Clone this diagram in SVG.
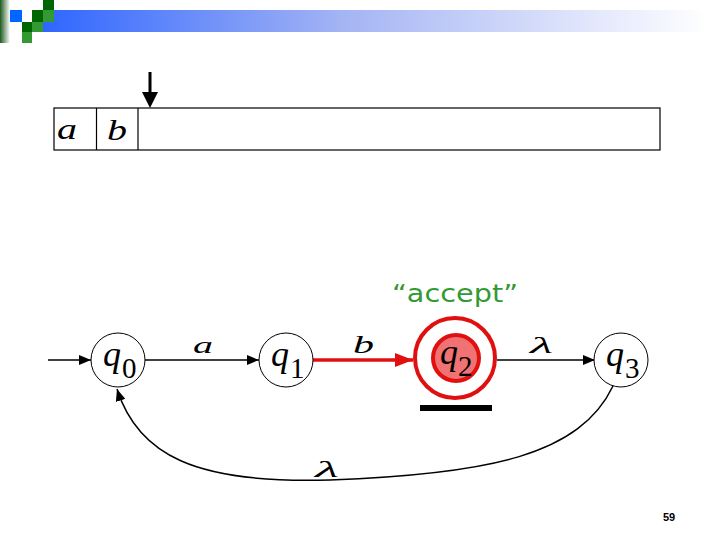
<svg xmlns="http://www.w3.org/2000/svg" width="720" height="540" viewBox="0 0 720 540">
<style>
.st{fill:#fff;stroke:#000;stroke-width:1}
.q{font-family:'Liberation Serif','Times New Roman',Times,serif;font-style:italic;font-size:36px;fill:#000}
.sub{font-family:'Liberation Serif','Times New Roman',Times,serif;font-size:29px;fill:#000}
.lbl{font-family:'Liberation Serif','Times New Roman',Times,serif;font-style:italic;fill:#000}
.edge{fill:none;stroke:#000;stroke-width:1.5}
</style>
<defs>
<linearGradient id="bar" x1="0" y1="0" x2="1" y2="0">
<stop offset="0" stop-color="#2f66ff"/>
<stop offset="0.45" stop-color="#a4b4f4"/>
<stop offset="1" stop-color="#ffffff"/>
</linearGradient>
<linearGradient id="lft" x1="0" y1="0" x2="1" y2="0">
<stop offset="0" stop-color="#1d5a1d"/>
<stop offset="1" stop-color="#ffffff"/>
</linearGradient>
<marker id="ah" markerWidth="12" markerHeight="10" refX="12" refY="5" orient="auto" markerUnits="userSpaceOnUse">
<path d="M0,0 L12,5 L0,10 Z" fill="#000"/>
</marker>
<marker id="ahr" markerWidth="18" markerHeight="14" refX="18" refY="7" orient="auto" markerUnits="userSpaceOnUse">
<path d="M0,0 L18,7 L0,14 Z" fill="#e01010"/>
</marker>
</defs>
<g id="header">
<rect x="0" y="0" width="10" height="43" fill="url(#lft)"/>
<rect x="43" y="10" width="665" height="22" fill="url(#bar)"/>
<rect x="43" y="0" width="11" height="10" fill="#006600"/>
<rect x="10" y="10" width="12" height="12" fill="#0066ff"/>
<rect x="32" y="10" width="11" height="12" fill="#006600"/>
<rect x="43" y="10" width="11" height="12" fill="#339933"/>
<rect x="22" y="22" width="10" height="10" fill="#006600"/>
<rect x="32" y="22" width="11" height="10" fill="#339933"/>
<rect x="22" y="32" width="10" height="11" fill="#339933"/>
</g>
<g id="tape">
<rect x="54" y="108" width="606" height="42" fill="#fff" stroke="#000" stroke-width="1.2"/>
<line x1="96.5" y1="108" x2="96.5" y2="150" stroke="#000" stroke-width="1.2"/>
<line x1="138" y1="108" x2="138" y2="150" stroke="#000" stroke-width="1.2"/>
<text class="lbl" x="57" y="139" font-size="30" textLength="20" lengthAdjust="spacingAndGlyphs">a</text>
<text class="lbl" x="107" y="140" font-size="30" textLength="20" lengthAdjust="spacingAndGlyphs">b</text>
</g>
<g id="head">
<rect x="148.5" y="72" width="3" height="21" fill="#000"/>
<polygon points="142,92 158,92 150,108" fill="#000"/>
</g>
<g id="connectors">
<line class="edge" x1="48" y1="360" x2="91" y2="360" marker-end="url(#ah)"/>
<line class="edge" x1="145" y1="360" x2="259" y2="360" marker-end="url(#ah)"/>
<line x1="313" y1="360" x2="413" y2="360" stroke="#e01010" stroke-width="3.5" marker-end="url(#ahr)"/>
<line class="edge" x1="497" y1="360" x2="595" y2="360" marker-end="url(#ah)"/>
<path class="edge" d="M613,386 C580,455 490,474 330,480 C195,484 138,455 117,389" marker-end="url(#ah)"/>
<text class="lbl" x="193" y="353" font-size="24" textLength="20" lengthAdjust="spacingAndGlyphs">a</text>
<text class="lbl" x="353" y="353" font-size="26" textLength="21" lengthAdjust="spacingAndGlyphs">b</text>
<text class="lbl" x="530" y="353" font-size="24" textLength="23" lengthAdjust="spacingAndGlyphs">λ</text>
<text class="lbl" x="315" y="477" font-size="24" textLength="24" lengthAdjust="spacingAndGlyphs">λ</text>
</g>
<g id="q0">
<circle class="st" cx="118" cy="360" r="27"/>
<text class="q" x="103" y="366">q</text><text class="sub" x="122" y="378">0</text>
</g>
<g id="q1">
<circle class="st" cx="286" cy="360" r="27"/>
<text class="q" x="271" y="366">q</text><text class="sub" x="290" y="378">1</text>
</g>
<g id="q2">
<circle cx="455" cy="358" r="40" fill="#fff" stroke="#e01010" stroke-width="4"/>
<circle cx="456" cy="358" r="23" fill="#f07272" stroke="#e01010" stroke-width="4"/>
<text class="q" x="440" y="364">q</text><text class="sub" x="458" y="376">2</text>
<rect x="420" y="405" width="72" height="6" fill="#000"/>
<text x="392" y="302" font-family="'DejaVu Sans',sans-serif" font-size="24" fill="#339933" textLength="126" lengthAdjust="spacingAndGlyphs">“accept”</text>
</g>
<g id="q3">
<circle class="st" cx="621" cy="360" r="27"/>
<text class="q" x="606" y="366">q</text><text class="sub" x="625" y="378">3</text>
</g>
<text x="669" y="521" text-anchor="middle" font-family="'Liberation Sans',sans-serif" font-weight="bold" font-size="11" fill="#000">59</text>
</svg>
